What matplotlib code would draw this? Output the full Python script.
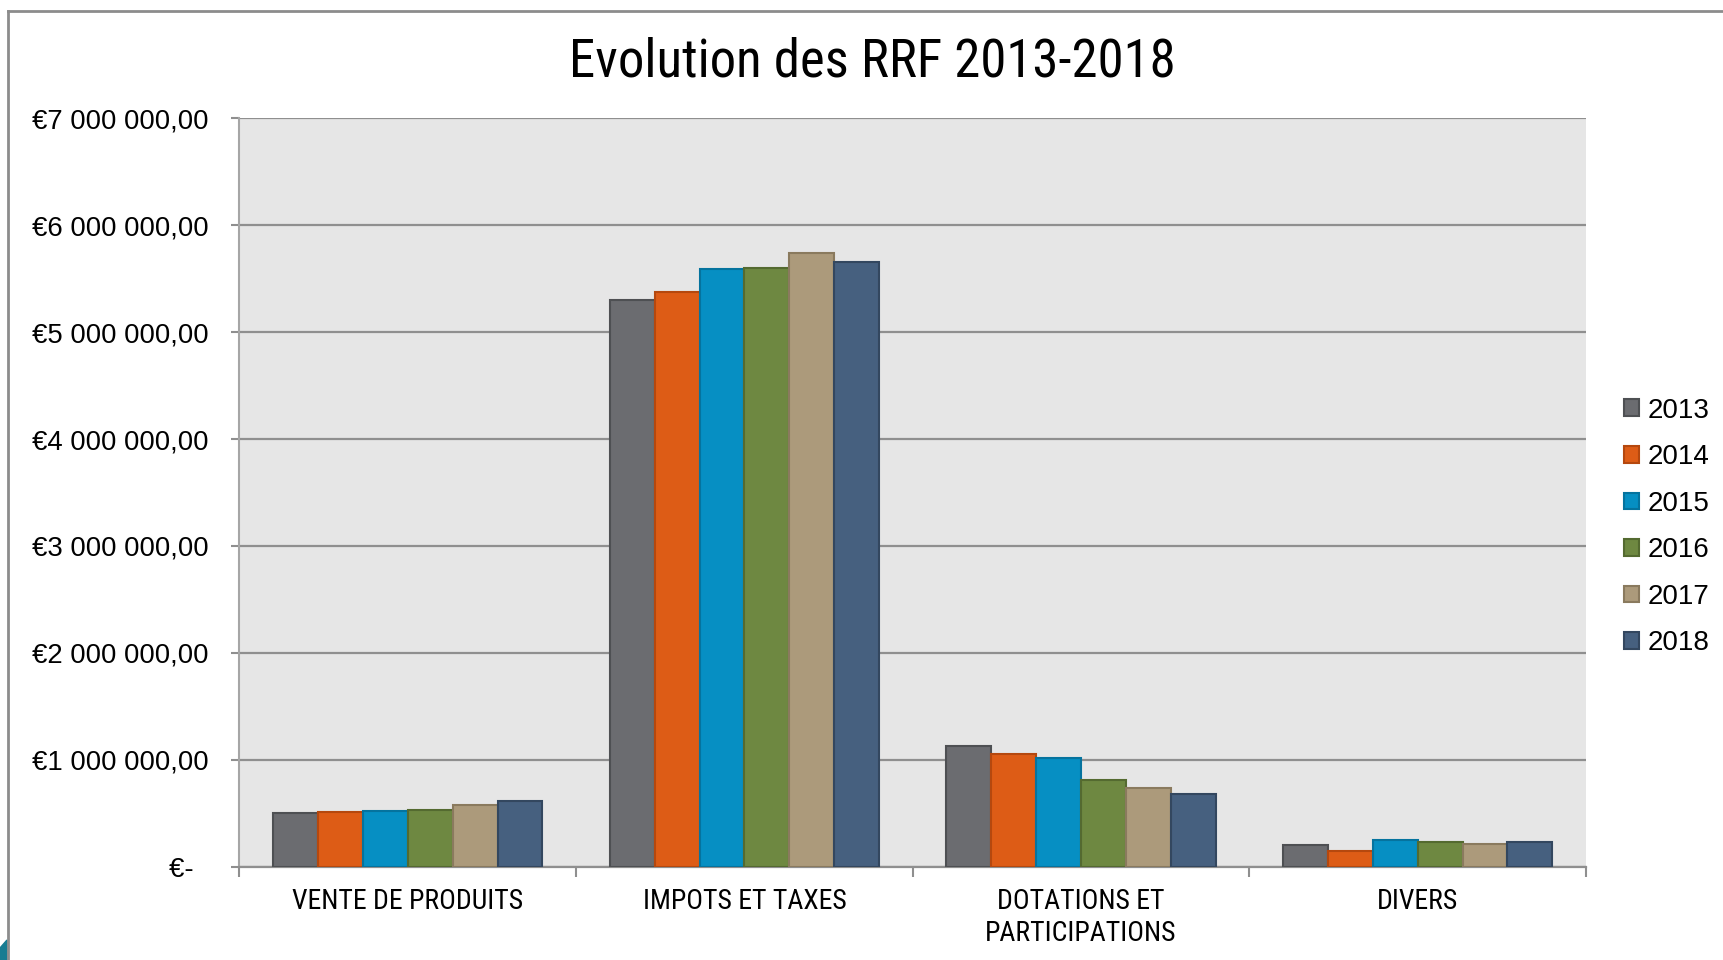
import matplotlib
matplotlib.use("Agg")
import numpy as np
from matplotlib import pyplot as plt
from matplotlib.patches import Patch, Polygon
from matplotlib.lines import Line2D
from matplotlib.ticker import FuncFormatter, FixedLocator

categories = ["VENTE DE PRODUITS", "IMPOTS ET TAXES", "DOTATIONS ET\nPARTICIPATIONS", "DIVERS"]
years = ["2013", "2014", "2015", "2016", "2017", "2018"]
values = {
    "2013": [500000, 5300000, 1130000, 200000],
    "2014": [516000, 5377000, 1057000, 150000],
    "2015": [522000, 5586000, 1016000, 253000],
    "2016": [534000, 5604000, 811000, 234000],
    "2017": [578000, 5736000, 739000, 210000],
    "2018": [619000, 5658000, 677000, 234000],
}
colors = ["#6B6C70", "#DD5C16", "#068FC3", "#6E8841", "#AC9A7B", "#46607F"]
edges = ["#4E5053", "#B5480E", "#05739E", "#546A30", "#8A7A5E", "#33475F"]

narrow = ["Roboto Condensed", "Roboto", "DejaVu Sans"]
plt.rcParams["font.family"] = ["Liberation Sans", "DejaVu Sans"]

fig = plt.figure(figsize=(17.23, 9.6), dpi=100)
ax = fig.add_axes([0.139, 0.0972, 0.7815, 0.7796])
ax.set_facecolor("#E6E6E6")

x = np.arange(len(categories))
w = 1 / 7.5
for j, y in enumerate(years):
    ax.bar(x + (j - 2.5) * w, values[y], width=w, color=colors[j],
           edgecolor=edges[j], linewidth=1.5, label=y, zorder=3)

ax.set_xlim(-0.5, 3.5)
ax.set_ylim(0, 7000000)
ax.yaxis.set_major_locator(FixedLocator(np.arange(0, 7000001, 1000000)))


def euro(v, pos):
    if v == 0:
        return "€-  "
    return "€" + f"{v:,.2f}".replace(",", " ").replace(".", ",")


ax.yaxis.set_major_formatter(FuncFormatter(euro))
ax.grid(axis="y", color="#8F8F8F", linewidth=1.6, zorder=1)
ax.set_axisbelow(True)

ax.set_xticks(np.arange(-0.5, 3.6, 1))
ax.set_xticklabels([])
ax.set_xticks(x, minor=True)
ax.set_xticklabels(categories, minor=True, fontsize=20, family=narrow, linespacing=1.25)
ax.tick_params(axis="x", which="major", length=7, width=1.5, color="#8F8F8F")
ax.tick_params(axis="x", which="minor", length=0, pad=15)
ax.tick_params(axis="y", length=6, width=1.5, color="#8F8F8F", labelsize=19.8, pad=16)

for s in ["top", "right"]:
    ax.spines[s].set_visible(False)
ax.spines["left"].set_color("#A6A6A6")
ax.spines["left"].set_linewidth(1.5)
ax.spines["bottom"].set_color("#8F8F8F")
ax.spines["bottom"].set_linewidth(1.6)

fig.text(0.506, 0.935, "Evolution des RRF 2013-2018", ha="center", va="center",
         fontsize=38, family=narrow)

handles = [Patch(facecolor=colors[j], edgecolor=edges[j], linewidth=1.5) for j in range(len(years))]
fig.legend(handles, years, loc="center left", bbox_to_anchor=(0.9425, 0.451),
           frameon=False, fontsize=20, handlelength=0.55, handleheight=0.55,
           handletextpad=0.3, labelspacing=0.74, borderpad=0, borderaxespad=0)

# outer frame of the slide chart
fig.add_artist(Line2D([8 / 1723, 1], [1 - 11 / 960, 1 - 11 / 960], color="#8C8C8C", linewidth=2))
fig.add_artist(Line2D([8 / 1723, 8 / 1723], [0, 1 - 11 / 960], color="#8C8C8C", linewidth=2))
fig.add_artist(Polygon([[0, 0], [7 / 1723, 0], [7 / 1723, 20 / 960], [0, 12 / 960]],
                       closed=True, transform=fig.transFigure, color="#167C92"))

fig.savefig("out.png", dpi=100)
